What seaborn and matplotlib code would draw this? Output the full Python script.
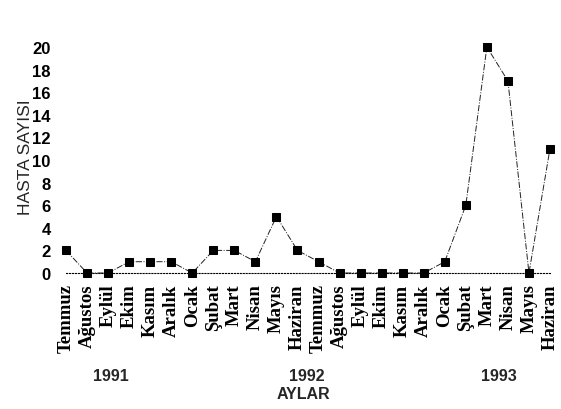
import matplotlib
matplotlib.use("Agg")
import matplotlib.pyplot as plt
import seaborn as sns
import pandas as pd
import numpy as np

months = ["Temmuz", "Ağustos", "Eylül", "Ekim", "Kasım", "Aralık",
          "Ocak", "Şubat", "Mart", "Nisan", "Mayıs", "Haziran",
          "Temmuz", "Ağustos", "Eylül", "Ekim", "Kasım", "Aralık",
          "Ocak", "Şubat", "Mart", "Nisan", "Mayıs", "Haziran"]
counts = [2, 0, 0, 1, 1, 1, 0, 2, 2, 1, 5, 2,
          1, 0, 0, 0, 0, 0, 1, 6, 20, 17, 0, 11]
years = ["1991", "1992", "1993"]
year_px = [111, 307, 499]
y_ticks = list(range(0, 21, 2))

sns.set_style("white")
plt.rcParams["font.family"] = ["Liberation Sans", "DejaVu Sans"]

W, H = 561, 410
fig = plt.figure(figsize=(W / 100, H / 100), dpi=100)
ax = fig.add_axes([66 / W, 1 - 274 / H, 484 / W, 226 / H])

df = pd.DataFrame({"idx": np.arange(len(months)), "count": counts})
sns.lineplot(data=df, x="idx", y="count", ax=ax, color="#222222",
             linewidth=0.7, linestyle="-.", marker="s", markersize=6,
             markeredgecolor="black", markerfacecolor="black", clip_on=False)

ax.set_xlim(0, len(months) - 1)
ax.set_ylim(0, 20)
ax.set_xticks(np.arange(len(months)))
ax.set_xticklabels(months, rotation=90, family=["Liberation Serif", "DejaVu Serif"],
                   fontweight="bold", fontsize=13.5)
ax.set_yticks(y_ticks)
ax.set_yticklabels([str(v) for v in y_ticks], fontweight="bold", fontsize=12)
ax.tick_params(axis="y", direction="in", length=2.5, width=0.6, pad=11, colors="black")
ax.tick_params(axis="x", direction="inout", length=3, width=0.5, pad=6, colors="black")

for s in ["top", "right", "left"]:
    ax.spines[s].set_visible(False)
ax.spines["bottom"].set_linestyle(":")
ax.spines["bottom"].set_linewidth(0.8)
ax.spines["bottom"].set_color("black")

ax.set_xlabel("")
ax.set_ylabel("")
fig.text(26 / W, 1 - 157 / H, "HASTA SAYISI", rotation=90, ha="center", va="center",
         fontsize=12.5)
for yr, px in zip(years, year_px):
    fig.text(px / W, 1 - 377 / H, yr, ha="center", va="center",
             fontsize=11.5, fontweight="bold")
fig.text(303 / W, 1 - 395 / H, "AYLAR", ha="center", va="center",
         fontsize=11.5, fontweight="bold")

fig.savefig("out.png", dpi=100, facecolor="white")
